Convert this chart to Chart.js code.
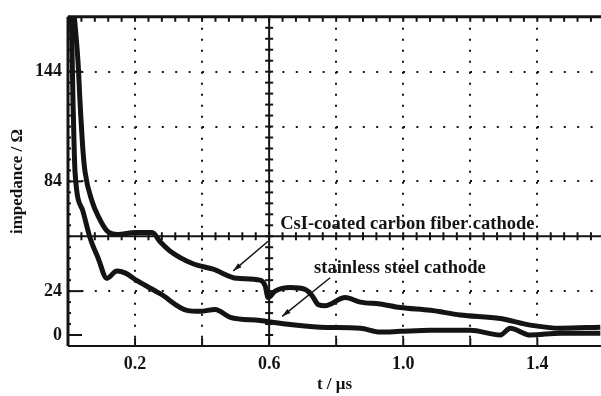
<!DOCTYPE html>
<html>
<head>
<meta charset="utf-8">
<script src="https://cdn.jsdelivr.net/npm/chart.js@4.4.1/dist/chart.umd.min.js"></script>
<style>
  body { margin: 0; background: #fff; }
  canvas { display: block; }
</style>
</head>
<body>
<canvas id="myChart" width="601" height="396"></canvas>
<script>
//traces: time in us, impedance in ohm
const csiTime = [0.018, 0.030, 0.036, 0.045, 0.051, 0.072, 0.090, 0.116, 0.149, 0.200, 0.251, 0.275, 0.304, 0.373, 0.433, 0.504, 0.573, 0.588, 0.597, 0.618, 0.663, 0.707, 0.728, 0.746, 0.767, 0.827, 0.872, 0.931, 0.991, 1.081, 1.170, 1.290, 1.379, 1.469, 1.588];
const csiImpedance = [176, 149, 127, 100, 89, 73, 65, 57, 55, 56, 56, 51, 46, 39, 36, 31, 30, 27, 20.5, 24, 26, 25, 21.6, 16.7, 16, 20.5, 18, 17, 15, 13.5, 11, 9, 5.4, 3.7, 4.3];

const steelTime = [0.010, 0.015, 0.018, 0.021, 0.045, 0.066, 0.090, 0.116, 0.146, 0.170, 0.206, 0.275, 0.355, 0.394, 0.439, 0.484, 0.573, 0.633, 0.752, 0.872, 0.931, 0.991, 1.081, 1.200, 1.290, 1.319, 1.379, 1.469, 1.588];
const steelImpedance = [176, 127, 105, 89, 67.5, 53, 42, 31, 35, 34, 29.7, 22.6, 13.5, 13, 14, 9.7, 8, 6.4, 4.3, 3.7, 1.6, 2, 2.6, 2.6, 0, 3.7, 0, 1, 1];

const seriesNames = ['CsI-coated carbon fiber cathode', 'stainless steel cathode'];

//scope divisions and the few labelled ticks
const xTicks = [0, 0.2, 0.4, 0.6, 0.8, 1.0, 1.2, 1.4];
const xLabels = [0.2, 0.6, 1.0, 1.4];
const yTicks = [-6, 0, 24, 54, 84, 114, 144, 174];
const yLabels = [0, 24, 84, 144];
const yDotted = [24, 84, 114, 144];

//label text and arrow ends, in data units
const notes = [
  {text: seriesNames[0], at: [0.633, 60.5], from: [0.597, 51.3], to: [0.493, 35.1]},
  {text: seriesNames[1], at: [0.734, 36.7], from: [0.782, 31.3], to: [0.639, 10.2]}
];

const ink = '#141414';
const serif = "'Liberation Serif', 'DejaVu Serif', serif";

function toPoints(xs, ys) {
  return xs.map((t, i) => ({x: t, y: ys[i]}));
}

//oscilloscope frame, centre cross lines, inward ticks, labels with arrows
const scopeFrame = {
  id: 'scopeFrame',
  afterDatasetsDraw(chart) {
    const {ctx, chartArea: a, scales: {x, y}} = chart;
    const seg = (x1, y1, x2, y2) => { ctx.beginPath(); ctx.moveTo(x1, y1); ctx.lineTo(x2, y2); ctx.stroke(); };
    ctx.save();
    ctx.strokeStyle = ink;
    ctx.fillStyle = ink;

    const cx = x.getPixelForValue(0.6);
    const cy = y.getPixelForValue(54);
    ctx.lineWidth = 2;
    seg(cx, a.top, cx, a.bottom);
    seg(a.left, cy, a.right, cy);
    for (let v = -6; v <= 174; v += 6) {
      const p = y.getPixelForValue(v);
      seg(cx - 4, p, cx + 4, p);
      seg(a.left, p, a.left + 3, p);
    }
    for (let t = 0; t <= 1.6; t += 0.04) {
      const p = x.getPixelForValue(t);
      if (p > a.right) break;
      seg(p, cy - 4, p, cy + 4);
      seg(p, a.top, p, a.top + 5);
    }

    ctx.lineWidth = 3;
    seg(a.left, a.bottom, a.left, a.top);
    seg(a.left, a.top, a.right, a.top);
    ctx.lineWidth = 2;
    seg(a.left, a.bottom, a.right, a.bottom);
    xTicks.forEach(t => {
      const p = x.getPixelForValue(t);
      seg(p, a.bottom, p, a.bottom - 8);
    });
    yLabels.forEach(v => {
      const p = y.getPixelForValue(v);
      seg(a.left, p, a.left + 14, p);
    });

    ctx.font = 'bold 18.5px ' + serif;
    ctx.textBaseline = 'middle';
    ctx.textAlign = 'left';
    ctx.lineWidth = 1.5;
    notes.forEach(n => {
      ctx.fillText(n.text, x.getPixelForValue(n.at[0]), y.getPixelForValue(n.at[1]));
      const x1 = x.getPixelForValue(n.from[0]), y1 = y.getPixelForValue(n.from[1]);
      const x2 = x.getPixelForValue(n.to[0]), y2 = y.getPixelForValue(n.to[1]);
      seg(x1, y1, x2, y2);
      const ang = Math.atan2(y2 - y1, x2 - x1);
      ctx.beginPath();
      ctx.moveTo(x2, y2);
      ctx.lineTo(x2 - 9 * Math.cos(ang - 0.3), y2 - 9 * Math.sin(ang - 0.3));
      ctx.lineTo(x2 - 9 * Math.cos(ang + 0.3), y2 - 9 * Math.sin(ang + 0.3));
      ctx.closePath();
      ctx.fill();
    });
    ctx.restore();
  }
};

const config = {
  type: 'line',
  data: {
    datasets: [{
      label: seriesNames[0],
      data: toPoints(csiTime, csiImpedance),
      borderColor: ink,
      borderWidth: 5,
      pointRadius: 0,
      cubicInterpolationMode: 'monotone'
    },
    {
      label: seriesNames[1],
      data: toPoints(steelTime, steelImpedance),
      borderColor: ink,
      borderWidth: 5,
      pointRadius: 0,
      cubicInterpolationMode: 'monotone'
    }]
  },
  options: {
    responsive: false,
    animation: false,
    layout: {padding: {top: 13, right: 0, left: 0, bottom: 0}},
    plugins: {
      legend: {display: false},
      tooltip: {enabled: false}
    },
    scales: {
      x: {
        type: 'linear',
        min: 0,
        max: 1.59,
        afterBuildTicks: s => { s.ticks = xTicks.map(v => ({value: v})); },
        afterFit: s => { s.height = 50; },
        border: {display: false, dash: [2, 9]},
        grid: {
          drawTicks: false,
          lineWidth: 2,
          color: c => (c.tick && c.tick.value !== 0 && Math.abs(c.tick.value - 0.6) > 1e-6) ? ink : 'rgba(0,0,0,0)'
        },
        ticks: {
          padding: 8,
          color: ink,
          font: {family: serif, size: 18, weight: 'bold'},
          callback: v => xLabels.some(l => Math.abs(l - v) < 1e-6) ? v.toFixed(1) : ''
        },
        title: {
          display: true,
          text: 't / \u03bcs',
          color: ink,
          padding: {top: 0, bottom: 1},
          font: {family: serif, size: 17, weight: 'bold'}
        }
      },
      y: {
        min: -6,
        max: 174,
        afterBuildTicks: s => { s.ticks = yTicks.map(v => ({value: v})); },
        afterFit: s => { s.width = 68; },
        border: {display: false, dash: [2, 11.4]},
        grid: {
          drawTicks: false,
          lineWidth: 2,
          color: c => (c.tick && yDotted.includes(c.tick.value)) ? ink : 'rgba(0,0,0,0)'
        },
        ticks: {
          padding: 6,
          color: ink,
          font: {family: serif, size: 18, weight: 'bold'},
          callback: v => yLabels.includes(v) ? v : ''
        },
        title: {
          display: true,
          text: 'impedance / \u03a9',
          color: ink,
          padding: {top: 7, bottom: 0},
          font: {family: serif, size: 17, weight: 'bold'}
        }
      }
    }
  },
  plugins: [scopeFrame]
};

let myChart = new Chart(document.getElementById('myChart'), config);
</script>
</body>
</html>
